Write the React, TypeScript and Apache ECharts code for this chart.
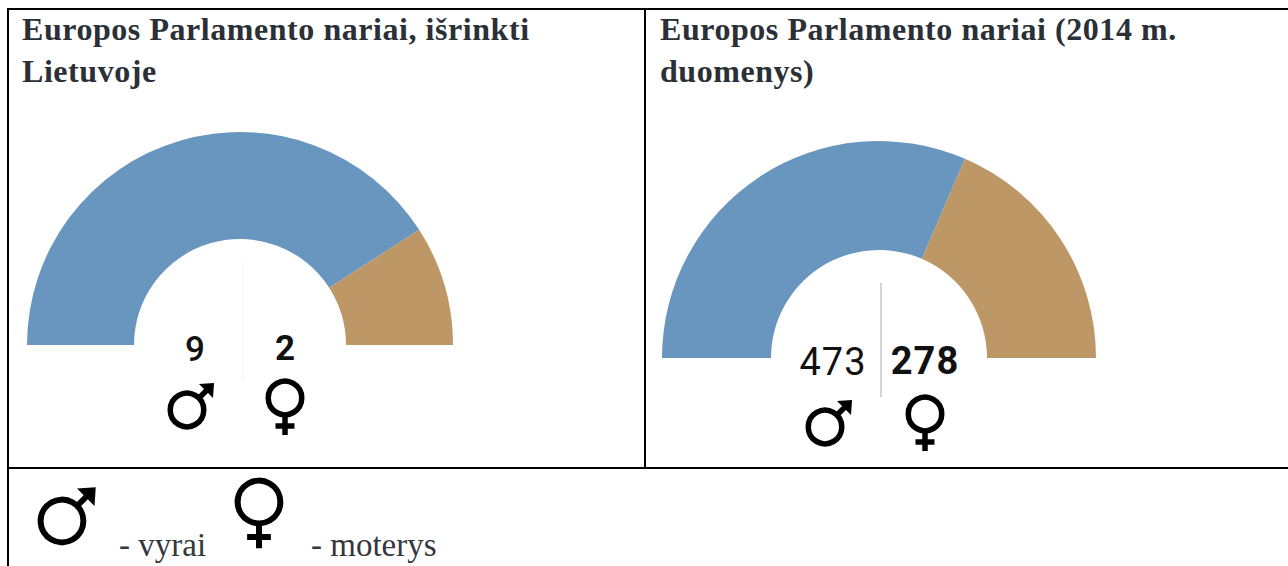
import React, { useEffect, useRef } from "react";
import * as echarts from "echarts";

const genderNames = ["vyrai", "moterys"];
const lithuaniaValues = [9, 2];
const europeValues = [473, 278];
const leftTitleLines = ["Europos Parlamento nariai, išrinkti", "Lietuvoje"];
const rightTitleLines = ["Europos Parlamento nariai (2014 m.", "duomenys)"];
const colors = ["#6896BE", "#BD9766"];
const INK = "#000";
const TITLE_FONT = 'bold 32px "Liberation Serif"';

function male(cx: number, cy: number, s: number, w: number) {
  const r = 19.5 * s - w / 2, t = 27 * s;
  return [
    { type: "circle", shape: { cx, cy, r }, style: { fill: "none", stroke: INK, lineWidth: w } },
    { type: "line", shape: { x1: cx + 11 * s, y1: cy - 11 * s, x2: cx + t - 3 * s, y2: cy - t + 3 * s }, style: { stroke: INK, lineWidth: w } },
    { type: "polygon", shape: { points: [[cx + t, cy - t], [cx + t - 15 * s, cy - t + 1 * s], [cx + t - 1 * s, cy - t + 15 * s]] }, style: { fill: INK } },
  ];
}
function female(cx: number, cy: number, s: number, w: number) {
  const r = 19.5 * s - w / 2;
  return [
    { type: "circle", shape: { cx, cy, r }, style: { fill: "none", stroke: INK, lineWidth: w } },
    { type: "line", shape: { x1: cx, y1: cy + r, x2: cx, y2: cy + 37 * s }, style: { stroke: INK, lineWidth: w } },
    { type: "line", shape: { x1: cx - 9.5 * s, y1: cy + 28 * s, x2: cx + 9.5 * s, y2: cy + 28 * s }, style: { stroke: INK, lineWidth: w } },
  ];
}
function rule(x1: number, y1: number, x2: number, y2: number, stroke = "#000", lineWidth = 2) {
  return { type: "line", silent: true, shape: { x1, y1, x2, y2 }, style: { stroke, lineWidth } };
}
function num(value: number, x: number, y: number, font: string) {
  return { type: "text", x, y, style: { text: String(value), fill: "#111", align: "center", verticalAlign: "middle", font } };
}
function label(text: string, x: number, y: number, font: string, fill: string) {
  return { type: "text", x, y, style: { text, fill, font, align: "left", verticalAlign: "middle" } };
}
function donut(name: string, values: number[], cx: number, cy: number, r0: number, r1: number) {
  return {
    type: "pie", name, center: [cx, cy], radius: [r0, r1], startAngle: 180, endAngle: 0,
    silent: true, label: { show: false }, labelLine: { show: false },
    data: values.map((value, i) => ({ value, name: genderNames[i], itemStyle: { color: colors[i] } })),
  };
}

export default function App() {
  const ref = useRef<HTMLDivElement>(null);
  useEffect(() => {
    const chart = echarts.init(ref.current!, undefined, { renderer: "svg" });
    chart.setOption({
      animation: false,
      backgroundColor: "#fff",
      series: [
        donut("Lietuva", lithuaniaValues, 240, 345, 106, 213),
        donut("Europa", europeValues, 879, 358, 108, 217),
      ],
      graphic: [
        rule(7, 9, 1288, 9), rule(8, 8, 8, 566),
        rule(645, 9, 645, 468), rule(7, 468, 1288, 468),
        rule(243, 262, 243, 382, "#f3f3f3", 1),
        rule(881, 283, 881, 397, "#aaaaaa", 1),
        label(leftTitleLines[0], 22, 29, TITLE_FONT, "#2b3036"),
        label(leftTitleLines[1], 22, 71, TITLE_FONT, "#2b3036"),
        label(rightTitleLines[0], 660, 29, TITLE_FONT, "#2b3036"),
        label(rightTitleLines[1], 660, 71, TITLE_FONT, "#2b3036"),
        num(lithuaniaValues[0], 195, 349, '500 35px Roboto'),
        num(lithuaniaValues[1], 285, 348, 'bold 35px Roboto'),
        num(europeValues[0], 833, 362, '400 38px Roboto'),
        num(europeValues[1], 925, 361, 'bold 38px Roboto'),
        ...male(187, 410, 1, 5.5), ...female(285, 398, 1, 5.5),
        ...male(825, 427, 1, 5.5), ...female(925, 414, 1, 5.5),
        ...male(62, 521, 1.25, 6), ...female(259, 502, 1.25, 6),
        label("- " + genderNames[0], 119, 545, '33px "Liberation Serif"', "#33383e"),
        label("- " + genderNames[1], 311, 545, '33px "Liberation Serif"', "#33383e"),
      ],
    });
    // ECharts text styles have no letter-spacing, so it is set on the rendered SVG text.
    const spaced: Record<string, number> = {
      [leftTitleLines[0]]: 0.55, [leftTitleLines[1]]: 0.55, [rightTitleLines[0]]: 0.55, [rightTitleLines[1]]: 0.55,
      [String(europeValues[0])]: 1, [String(europeValues[1])]: 1,
    };
    ref.current!.querySelectorAll("text").forEach((t) => {
      const s = spaced[t.textContent || ""];
      if (s) (t as SVGTextElement).style.letterSpacing = s + "px";
    });
    return () => chart.dispose();
  }, []);
  return <div ref={ref} style={{ position: "absolute", left: 0, top: 0, width: 1288, height: 566 }} />;
}
